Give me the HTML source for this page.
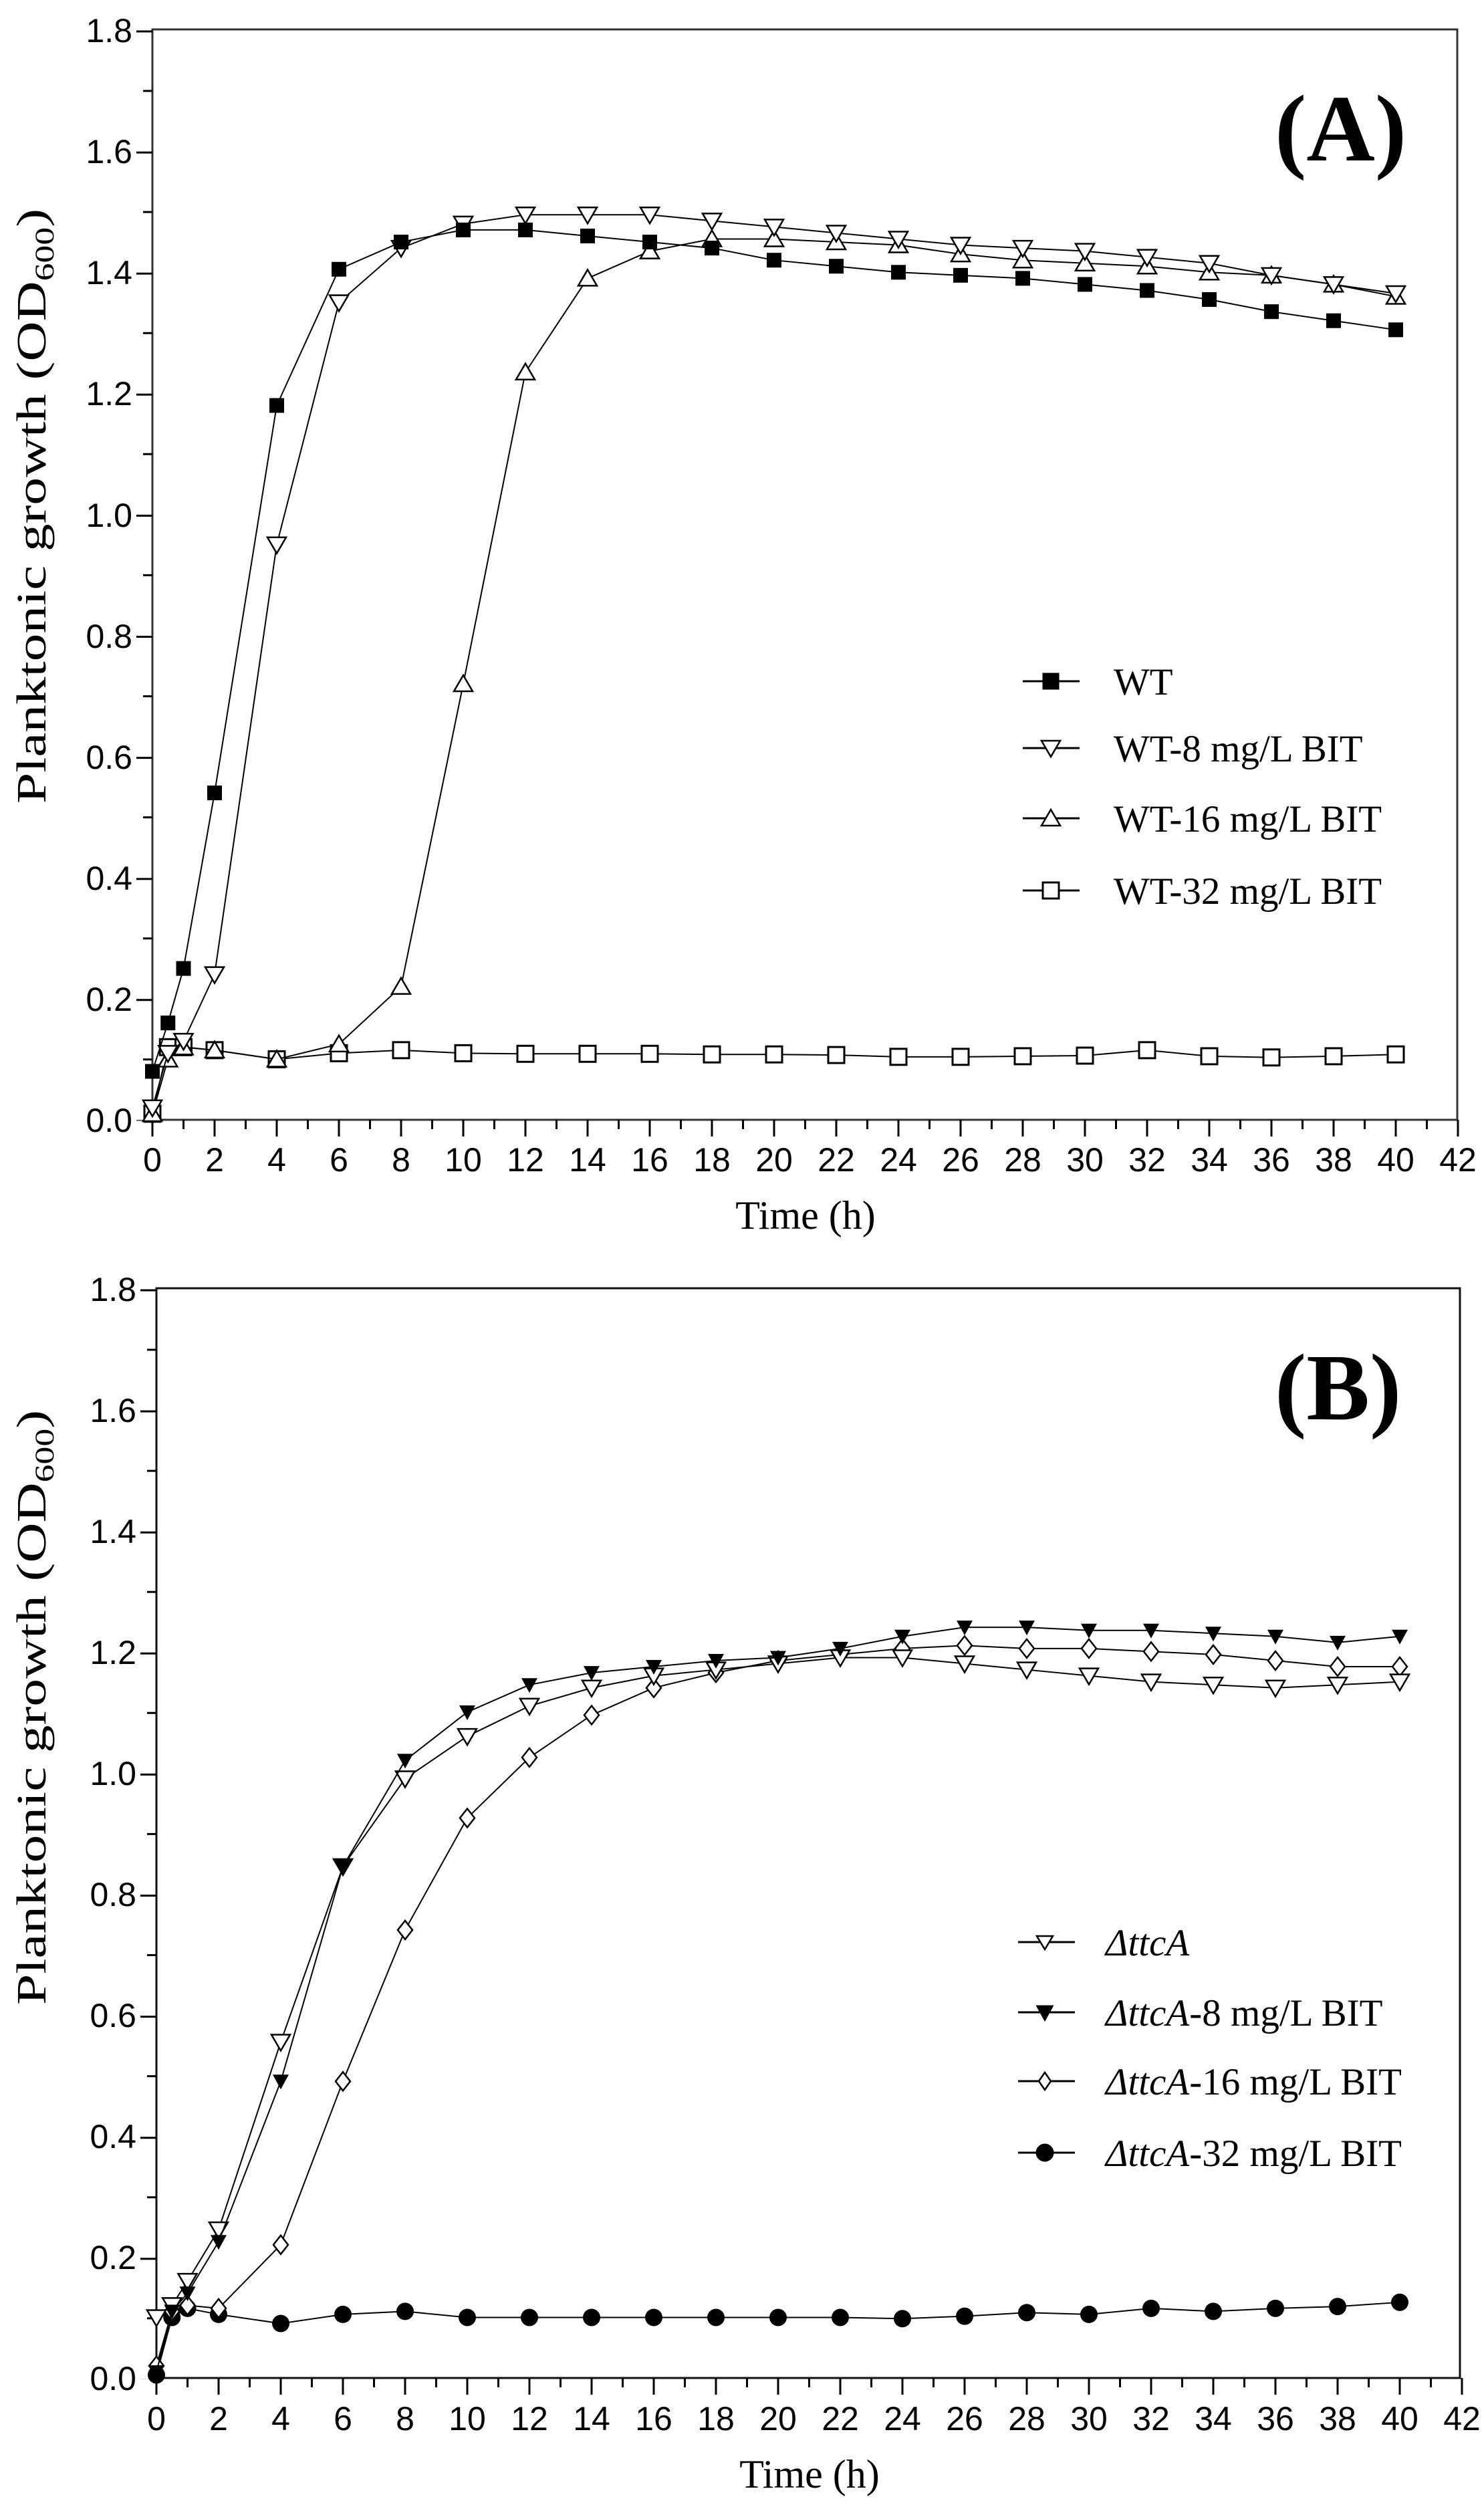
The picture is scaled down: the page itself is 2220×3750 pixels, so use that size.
<!DOCTYPE html>
<html><head><meta charset="utf-8"><style>html,body{margin:0;padding:0;background:#fff}</style></head>
<body>
<svg xmlns="http://www.w3.org/2000/svg" width="2220" height="3745" viewBox="0 0 2220 3745">
<defs>
<marker id="sqF" markerUnits="userSpaceOnUse" markerWidth="1" markerHeight="1" overflow="visible"><g transform="scale(0.021505,-0.0011044)"><rect x="-11" y="-11" width="22" height="22" fill="#000"/></g></marker>
<marker id="sqO" markerUnits="userSpaceOnUse" markerWidth="1" markerHeight="1" overflow="visible"><g transform="scale(0.021505,-0.0011044)"><rect x="-12" y="-12" width="24" height="24" fill="#fff" stroke="#000" stroke-width="3"/></g></marker>
<marker id="dtO" markerUnits="userSpaceOnUse" markerWidth="1" markerHeight="1" overflow="visible"><g transform="scale(0.021505,-0.0011044)"><polygon points="-14,-11 14,-11 0,13" fill="#fff" stroke="#000" stroke-width="2.5"/></g></marker>
<marker id="utO" markerUnits="userSpaceOnUse" markerWidth="1" markerHeight="1" overflow="visible"><g transform="scale(0.021505,-0.0011044)"><polygon points="-14,11 14,11 0,-13" fill="#fff" stroke="#000" stroke-width="2.5"/></g></marker>
<marker id="dtF" markerUnits="userSpaceOnUse" markerWidth="1" markerHeight="1" overflow="visible"><g transform="scale(0.021505,-0.0011044)"><polygon points="-12,-10 12,-10 0,12" fill="#000"/></g></marker>
<marker id="diO" markerUnits="userSpaceOnUse" markerWidth="1" markerHeight="1" overflow="visible"><g transform="scale(0.021505,-0.0011044)"><polygon points="0,-14 11,0 0,14 -11,0" fill="#fff" stroke="#000" stroke-width="2.5"/></g></marker>
<marker id="ciF" markerUnits="userSpaceOnUse" markerWidth="1" markerHeight="1" overflow="visible"><g transform="scale(0.021505,-0.0011044)"><circle r="13" fill="#000"/></g></marker>
</defs>

<!-- ================= PANEL A ================= -->
<g stroke="#000" fill="none">
<rect x="228" y="44" width="1952" height="1631" stroke="#333" stroke-width="3"/>
<line x1="226.5" y1="1687.5" x2="2183.5" y2="1687.5" stroke-width="25" stroke-dasharray="3 90"/>
<line x1="273" y1="1682" x2="2183.5" y2="1682" stroke-width="14" stroke-dasharray="3 90"/>
<line x1="216" y1="45.5" x2="216" y2="1676.5" stroke-width="24" stroke-dasharray="3 178.1"/>
<line x1="221" y1="134.5" x2="221" y2="1676.5" stroke-width="14" stroke-dasharray="3 178.1"/>
</g>
<g font-family="Liberation Sans, Arial, sans-serif" font-size="50" fill="#000" text-anchor="end">
<text x="198" y="1693">0.0</text><text x="198" y="1512">0.2</text><text x="198" y="1331">0.4</text><text x="198" y="1150">0.6</text><text x="198" y="969">0.8</text><text x="198" y="788">1.0</text><text x="198" y="606">1.2</text><text x="198" y="425">1.4</text><text x="198" y="244">1.6</text><text x="198" y="63">1.8</text>
</g>
<g font-family="Liberation Sans, Arial, sans-serif" font-size="50" fill="#000" text-anchor="middle">
<text x="228" y="1752">0</text><text x="321" y="1752">2</text><text x="414" y="1752">4</text><text x="507" y="1752">6</text><text x="600" y="1752">8</text><text x="693" y="1752">10</text><text x="786" y="1752">12</text><text x="879" y="1752">14</text><text x="972" y="1752">16</text><text x="1065" y="1752">18</text><text x="1158" y="1752">20</text><text x="1251" y="1752">22</text><text x="1344" y="1752">24</text><text x="1437" y="1752">26</text><text x="1530" y="1752">28</text><text x="1623" y="1752">30</text><text x="1716" y="1752">32</text><text x="1809" y="1752">34</text><text x="1902" y="1752">36</text><text x="1995" y="1752">38</text><text x="2088" y="1752">40</text><text x="2181" y="1752">42</text>
</g>
<text x="1205" y="1838" font-family="Liberation Serif, Times New Roman, serif" font-size="60" text-anchor="middle">Time (h)</text>
<text transform="translate(68,757) rotate(-90)" font-family="Liberation Serif, Times New Roman, serif" font-size="62" text-anchor="middle" textLength="890" lengthAdjust="spacingAndGlyphs">Planktonic growth (OD<tspan font-size="40" dy="12">600</tspan><tspan dy="-12">)</tspan></text>
<text x="1907" y="240" font-family="Liberation Serif, Times New Roman, serif" font-size="142" font-weight="bold">(A)</text>

<g transform="translate(228,1675) scale(46.5,-905.5)" fill="none" stroke="#000" stroke-width="2">
<polyline vector-effect="non-scaling-stroke" marker-start="url(#sqO)" marker-mid="url(#sqO)" marker-end="url(#sqO)" points="0,0.01 0.5,0.12 1,0.12 2,0.115 4,0.1 6,0.11 8,0.115 10,0.11 12,0.109 14,0.109 16,0.109 18,0.108 20,0.108 22,0.107 24,0.104 26,0.104 28,0.105 30,0.106 32,0.115 34,0.105 36,0.103 38,0.105 40,0.108"/>
<polyline vector-effect="non-scaling-stroke" marker-start="url(#utO)" marker-mid="url(#utO)" marker-end="url(#utO)" points="0,0.01 0.5,0.1 1,0.12 2,0.115 4,0.1 6,0.125 8,0.22 10,0.72 12,1.235 14,1.39 16,1.435 18,1.455 20,1.455 22,1.45 24,1.445 26,1.43 28,1.42 30,1.415 32,1.41 34,1.4 36,1.395 38,1.38 40,1.36"/>
<polyline vector-effect="non-scaling-stroke" marker-start="url(#dtO)" marker-mid="url(#dtO)" marker-end="url(#dtO)" points="0,0.02 0.5,0.11 1,0.13 2,0.24 4,0.95 6,1.35 8,1.44 10,1.48 12,1.495 14,1.495 16,1.495 18,1.485 20,1.475 22,1.465 24,1.455 26,1.445 28,1.44 30,1.435 32,1.425 34,1.415 36,1.395 38,1.38 40,1.365"/>
<polyline vector-effect="non-scaling-stroke" marker-start="url(#sqF)" marker-mid="url(#sqF)" marker-end="url(#sqF)" points="0,0.08 0.5,0.16 1,0.25 2,0.54 4,1.18 6,1.405 8,1.45 10,1.47 12,1.47 14,1.46 16,1.45 18,1.44 20,1.42 22,1.41 24,1.4 26,1.395 28,1.39 30,1.38 32,1.37 34,1.355 36,1.335 38,1.32 40,1.305"/>
</g>

<!-- legend A -->
<g stroke="#000" stroke-width="3">
<line x1="1530" y1="1019" x2="1615" y2="1019"/><rect x="1561" y="1008" width="22" height="22" fill="#000"/>
<line x1="1530" y1="1119" x2="1615" y2="1119"/><polygon points="1558,1108 1586,1108 1572,1132" fill="#fff" stroke-width="2.5"/>
<line x1="1530" y1="1224" x2="1615" y2="1224"/><polygon points="1558,1235 1586,1235 1572,1211" fill="#fff" stroke-width="2.5"/>
<line x1="1530" y1="1332" x2="1615" y2="1332"/><rect x="1560" y="1320" width="24" height="24" fill="#fff"/>
</g>
<g font-family="Liberation Serif, Times New Roman, serif" font-size="57" fill="#000">
<text x="1666" y="1039">WT</text><text x="1666" y="1139">WT-8 mg/L BIT</text><text x="1666" y="1244">WT-16 mg/L BIT</text><text x="1666" y="1352">WT-32 mg/L BIT</text>
</g>

<!-- ================= PANEL B ================= -->
<g stroke="#000" fill="none">
<rect x="234" y="1927" width="1950" height="1630" stroke="#111" stroke-width="3"/>
<line x1="232.5" y1="3569.5" x2="2189.5" y2="3569.5" stroke-width="25" stroke-dasharray="3 90"/>
<line x1="279" y1="3564" x2="2189.5" y2="3564" stroke-width="14" stroke-dasharray="3 90"/>
<line x1="222" y1="1928.5" x2="222" y2="3558.5" stroke-width="24" stroke-dasharray="3 178.1"/>
<line x1="227" y1="2017.5" x2="227" y2="3558.5" stroke-width="14" stroke-dasharray="3 178.1"/>
</g>
<g font-family="Liberation Sans, Arial, sans-serif" font-size="50" fill="#000" text-anchor="end">
<text x="204" y="3575">0.0</text><text x="204" y="3394">0.2</text><text x="204" y="3213">0.4</text><text x="204" y="3032">0.6</text><text x="204" y="2851">0.8</text><text x="204" y="2670">1.0</text><text x="204" y="2489">1.2</text><text x="204" y="2308">1.4</text><text x="204" y="2127">1.6</text><text x="204" y="1946">1.8</text>
</g>
<g font-family="Liberation Sans, Arial, sans-serif" font-size="50" fill="#000" text-anchor="middle">
<text x="234" y="3635">0</text><text x="327" y="3635">2</text><text x="420" y="3635">4</text><text x="513" y="3635">6</text><text x="606" y="3635">8</text><text x="699" y="3635">10</text><text x="792" y="3635">12</text><text x="885" y="3635">14</text><text x="978" y="3635">16</text><text x="1071" y="3635">18</text><text x="1164" y="3635">20</text><text x="1257" y="3635">22</text><text x="1350" y="3635">24</text><text x="1443" y="3635">26</text><text x="1536" y="3635">28</text><text x="1629" y="3635">30</text><text x="1722" y="3635">32</text><text x="1815" y="3635">34</text><text x="1908" y="3635">36</text><text x="2001" y="3635">38</text><text x="2094" y="3635">40</text><text x="2187" y="3635">42</text>
</g>
<text x="1211" y="3721" font-family="Liberation Serif, Times New Roman, serif" font-size="60" text-anchor="middle">Time (h)</text>
<text transform="translate(68,2554) rotate(-90)" font-family="Liberation Serif, Times New Roman, serif" font-size="62" text-anchor="middle" textLength="890" lengthAdjust="spacingAndGlyphs">Planktonic growth (OD<tspan font-size="40" dy="12">600</tspan><tspan dy="-12">)</tspan></text>
<text x="1907" y="2123" font-family="Liberation Serif, Times New Roman, serif" font-size="142" font-weight="bold">(B)</text>

<g transform="translate(234,3557) scale(46.5,-905.5)" fill="none" stroke="#000" stroke-width="2">
<polyline vector-effect="non-scaling-stroke" marker-start="url(#ciF)" marker-mid="url(#ciF)" marker-end="url(#ciF)" points="0,0.005 0.5,0.1 1,0.115 2,0.105 4,0.09 6,0.105 8,0.11 10,0.1 12,0.1 14,0.1 16,0.1 18,0.1 20,0.1 22,0.1 24,0.098 26,0.102 28,0.108 30,0.105 32,0.115 34,0.11 36,0.115 38,0.118 40,0.125"/>
<polyline vector-effect="non-scaling-stroke" marker-start="url(#diO)" marker-mid="url(#diO)" marker-end="url(#diO)" points="0,0.02 0.5,0.11 1,0.12 2,0.115 4,0.22 6,0.49 8,0.74 10,0.925 12,1.025 14,1.095 16,1.14 18,1.165 20,1.185 22,1.195 24,1.205 26,1.21 28,1.205 30,1.205 32,1.2 34,1.195 36,1.185 38,1.175 40,1.175"/>
<polyline vector-effect="non-scaling-stroke" marker-start="url(#dtO)" marker-mid="url(#dtO)" marker-end="url(#dtO)" points="0,0.1 0.5,0.12 1,0.16 2,0.245 4,0.555 6,0.845 8,0.99 10,1.06 12,1.11 14,1.14 16,1.16 18,1.17 20,1.18 22,1.19 24,1.19 26,1.18 28,1.17 30,1.16 32,1.15 34,1.145 36,1.14 38,1.145 40,1.15"/>
<polyline vector-effect="non-scaling-stroke" marker-start="url(#dtF)" marker-mid="url(#dtF)" marker-end="url(#dtF)" points="0,0.01 0.5,0.11 1,0.14 2,0.225 4,0.49 6,0.845 8,1.02 10,1.1 12,1.145 14,1.165 16,1.175 18,1.185 20,1.19 22,1.205 24,1.225 26,1.24 28,1.24 30,1.235 32,1.235 34,1.23 36,1.225 38,1.215 40,1.225"/>
</g>

<!-- legend B -->
<g stroke="#000" stroke-width="3">
<line x1="1523" y1="2905" x2="1608" y2="2905"/><polygon points="1551,2896 1575,2896 1563,2916" fill="#fff" stroke-width="2.5"/>
<line x1="1523" y1="3010" x2="1608" y2="3010"/><polygon points="1552,3001 1574,3001 1563,3021" fill="#000"/>
<line x1="1523" y1="3113" x2="1608" y2="3113"/><polygon points="1563,3100 1572,3113 1563,3126 1554,3113" fill="#fff" stroke-width="2.5"/>
<line x1="1523" y1="3220" x2="1608" y2="3220"/><circle cx="1563" cy="3220" r="12" fill="#000"/>
</g>
<g font-family="Liberation Serif, Times New Roman, serif" font-size="57" fill="#000">
<text x="1654" y="2925"><tspan font-style="italic">ΔttcA</tspan></text>
<text x="1654" y="3030"><tspan font-style="italic">ΔttcA</tspan>-8 mg/L BIT</text>
<text x="1654" y="3133"><tspan font-style="italic">ΔttcA</tspan>-16 mg/L BIT</text>
<text x="1654" y="3240"><tspan font-style="italic">ΔttcA</tspan>-32 mg/L BIT</text>
</g>
</svg>
</body></html>
